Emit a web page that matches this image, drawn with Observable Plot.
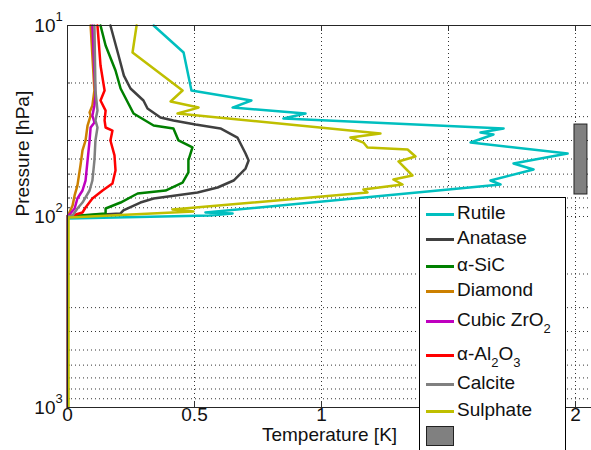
<!DOCTYPE html>
<html>
<head>
<meta charset="utf-8">
<script src="https://cdn.jsdelivr.net/npm/d3@7"></script>
<script src="https://cdn.jsdelivr.net/npm/@observablehq/plot@0.6"></script>
<style>
  html, body { margin: 0; padding: 0; background: #fff; }
  #wrap { position: relative; width: 591px; height: 450px; overflow: hidden; font-family: "Liberation Sans", Arial, Helvetica, sans-serif; }
  #legend { position: absolute; left: 419px; top: 197px; width: 147px; height: 300px; background: #fff; border: 1px solid #000; box-sizing: border-box; }
  .entry { position: absolute; left: 0; height: 0; }
  .entry .sw { position: absolute; left: 6px; width: 28px; height: 3px; top: -1.5px; }
  .entry .lab { position: absolute; left: 37px; top: -12px; font-size: 19px; line-height: 22px; white-space: nowrap; color: #111; }
  .entry sub { font-size: 13px; vertical-align: -7px; line-height: 0; }
  .box { position: absolute; left: 6px; width: 28px; height: 20px; background: #808080; border: 1px solid #222; box-sizing: border-box; }
</style>
</head>
<body>
<div id="wrap"></div>
<script>
// ---- data (temperature in K, pressure in hPa) ----
const rutileT  = [0.339,0.457,0.488,0.724,0.650,0.937,0.850,1.717,1.626,1.677,1.587,1.969,1.756,1.835,1.665,1.705,1.500,0.543,0.650,0.559,0,0];
const rutileP  = [10.0,13.85,21.9,24.7,26.9,28.9,30.7,34.6,36.35,37.2,41.0,46.8,52.8,56.75,64.8,68.0,72.2,95.3,96.4,98.8,102.4,1000];

const anataseT = [0.169,0.185,0.201,0.222,0.248,0.299,0.315,0.366,0.417,0.504,0.602,0.669,0.701,0.713,0.701,0.654,0.591,0.512,0.339,0.287,0.220,0.209,0,0];
const anataseP = [10.0,11.98,14.36,18.3,21.37,24.7,27.2,30.3,31.4,33.0,34.6,38.6,46.8,50.9,56.1,64.8,70.5,74.9,80.5,84.5,93.0,96.4,100,1000];

const sicT = [0.130,0.150,0.189,0.209,0.260,0.339,0.417,0.437,0.492,0.476,0.476,0.453,0.386,0.276,0.209,0.150,0.150,0,0];
const sicP = [10.0,12.73,17.2,21.37,28.9,33.4,34.6,40.0,43.5,50.9,58.8,66.4,73.1,75.8,84.5,90.8,96.4,100,1000];

const diamondT = [0.091,0.106,0.098,0.087,0.091,0.079,0.071,0.059,0.051,0.039,0.028,0.020,0,0];
const diamondP = [10.0,21.9,26.2,28.5,29.6,33.4,40.0,45.1,54.1,68.9,77.6,87.6,100,1000];

const zro2T = [0.098,0.110,0.106,0.098,0.106,0.091,0.087,0.079,0.071,0.059,0.039,0.028,0.008,0,0];
const zro2P = [10.0,23.3,26.2,29.6,32.2,34.2,40.0,50.9,64.8,73.1,80.5,90.8,97.6,100,1000];

const al2o3T = [0.118,0.130,0.146,0.130,0.150,0.146,0.150,0.177,0.169,0.185,0.189,0.177,0.138,0.098,0.071,0.059,0.020,0,0];
const al2o3P = [10.0,16.2,21.9,24.7,27.9,31.4,34.2,35.5,40.0,47.9,57.4,67.2,73.1,80.5,89.7,95.3,98.8,100,1000];

const calciteT = [0.106,0.110,0.118,0.110,0.118,0.110,0.106,0.098,0.087,0.059,0.039,0.020,0,0];
const calciteP = [10.0,21.9,27.9,31.4,34.2,40.0,50.9,64.8,73.1,84.5,90.8,98.8,100,1000];

const sulphateT = [0.272,0.256,0.453,0.406,0.516,0.433,1.232,1.114,1.165,1.181,1.339,1.370,1.303,1.358,1.283,1.319,1.165,1.181,0.413,0.496,0.004,0.004];
const sulphateP = [10.0,13.85,21.9,25.0,26.9,28.9,36.8,38.6,41.0,43.5,44.6,48.5,51.5,61.0,64.0,68.0,72.2,74.9,91.9,94.1,101.2,1000];

// shaded band at the right edge
const bandT = [1.996, 2.047];
const bandP = [33.0, 76.7];

const names  = ["Rutile","Anatase","α-SiC","Diamond","Cubic ZrO2","α-Al2O3","Calcite","Sulphate"];
const legendHTML = ["Rutile","Anatase","α-SiC","Diamond","Cubic ZrO<sub>2</sub>","α-Al<sub>2</sub>O<sub>3</sub>","Calcite","Sulphate"];
const colors = ["#00bfbf","#404040","#008000","#cc8000","#bf00bf","#ff0000","#808080","#bfbf00"];

const xTicks = [0, 0.5, 1, 1.5, 2];
// the 1.5 label sits under the legend in the reference and is not visible
const xTickLabels = ["0","0.5","1","","2"];
const yMajor = [10, 100, 1000];
const yExp = ["1","2","3"];
const yMinor = [20,30,40,50,60,70,80,90,100,200,300,400,500,600,700,800,900];
const xLabel = "Temperature [K]";
const yLabel = "Pressure [hPa]";

// ---- build table ----
const seriesT = [rutileT, anataseT, sicT, diamondT, zro2T, al2o3T, calciteT, sulphateT];
const seriesP = [rutileP, anataseP, sicP, diamondP, zro2P, al2o3P, calciteP, sulphateP];
const rows = [];
names.forEach((n, k) => seriesT[k].forEach((t, i) => rows.push({name: n, T: t, P: seriesP[k][i]})));
const band = [{x1: bandT[0], x2: bandT[1], y1: bandP[0], y2: bandP[1]}];
const xLab = xTicks.map((t, i) => ({t, label: xTickLabels[i]})).filter(d => d.label !== "");

const W = 591, H = 450, ML = 67, MT = 25, MB = 43;
const xMax = (W - ML) / 254;

const font = "Liberation Sans, Arial, Helvetica, sans-serif";

const chart = Plot.plot({
  width: W, height: H,
  marginLeft: ML, marginTop: MT, marginBottom: MB, marginRight: 0,
  style: {fontFamily: font, fontSize: "19px", background: "#fff", color: "#000"},
  x: {domain: [0, xMax], axis: null},
  y: {type: "log", domain: [10, 1000], reverse: true, axis: null},
  color: {domain: names, range: colors},
  marks: [
    // grid
    Plot.ruleX(xTicks.slice(1), {x: d => d, stroke: "#333", strokeDasharray: "1,3", strokeWidth: 1}),
    Plot.ruleY(yMinor, {y: d => d, stroke: "#333", strokeDasharray: "1,3", strokeWidth: 1}),
    // ticks (inward)
    Plot.axisX({anchor: "bottom", ticks: xTicks, tickSize: -5, tickFormat: () => "", stroke: "#333"}),
    Plot.axisX({anchor: "top", ticks: xTicks, tickSize: -5, tickFormat: () => "", stroke: "#333"}),
    Plot.axisY({anchor: "left", ticks: yMinor, tickSize: -3, tickFormat: () => "", stroke: "#333"}),
    Plot.axisY({anchor: "left", ticks: yMajor, tickSize: -5, tickFormat: () => "", stroke: "#333"}),
    // band
    Plot.rect(band, {x1: "x1", x2: "x2", y1: "y1", y2: "y2", fill: "#808080", stroke: "#222", strokeWidth: 1}),
    // lines
    Plot.line(rows, {x: "T", y: "P", z: "name", stroke: "name", strokeWidth: 2.5, curve: "linear"}),
    // frame (left, top, bottom)
    Plot.ruleX([0], {stroke: "#262626", strokeWidth: 1}),
    Plot.ruleY([10, 1000], {stroke: "#262626", strokeWidth: 1}),
    // tick labels
    Plot.text(xLab, {x: "t", frameAnchor: "bottom", dy: 13, text: "label", fontSize: 19, fill: "#111"}),
    Plot.text(yMajor, {y: d => d, frameAnchor: "left", dx: -12, textAnchor: "end", text: () => "10", fontSize: 19, fill: "#111"}),
    Plot.text(yMajor, {y: d => d, frameAnchor: "left", dx: -12, dy: -9, textAnchor: "start", text: (d, i) => yExp[i], fontSize: 13, fill: "#111"}),
    // axis labels
    Plot.text([xLabel], {frameAnchor: "bottom", dy: 33, text: d => d, fontSize: 19, fill: "#111"}),
    Plot.text([yLabel], {frameAnchor: "left", dx: -45, rotate: -90, text: d => d, fontSize: 19, fill: "#111"})
  ]
});

const wrap = document.getElementById("wrap");
wrap.appendChild(chart);

// legend overlay
const leg = document.createElement("div");
leg.id = "legend";
const entryY = [16, 41, 68, 93, 123, 157, 186, 213];
names.forEach((n, i) => {
  const e = document.createElement("div");
  e.className = "entry";
  e.style.top = entryY[i] + "px";
  e.innerHTML = `<div class="sw" style="background:${colors[i]}"></div><div class="lab">${legendHTML[i]}</div>`;
  leg.appendChild(e);
});
const bx = document.createElement("div");
bx.className = "box";
bx.style.top = "228px";
leg.appendChild(bx);
wrap.appendChild(leg);
</script>
</body>
</html>
